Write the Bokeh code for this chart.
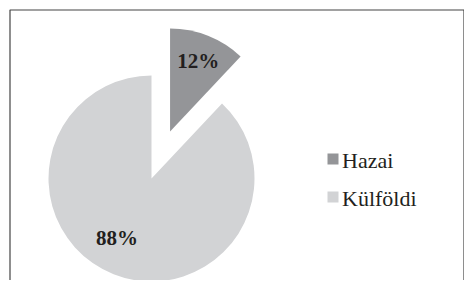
import math
from bokeh.plotting import figure
from bokeh.models import Range1d
from bokeh.core.properties import value
from bokeh.embed import file_html
from bokeh.resources import INLINE

categories = ["Hazai", "Külföldi"]
shares = [12, 88]
labels = ["12%", "88%"]
colors = ["#949598", "#d2d3d5"]

W, H = 464, 280
p = figure(width=W, height=H, output_backend="svg", toolbar_location=None,
           x_range=Range1d(0, W), y_range=Range1d(0, H),
           min_border=0, outline_line_color=None)
p.axis.visible = False
p.grid.visible = False
p.background_fill_color = "white"
p.border_fill_color = "white"

def sy(y):
    return H - y

# frame (reference pixel coords)
p.line(x=[9.5, 9.5, 463.5, 463.5], y=[sy(300), sy(9.5), sy(9.5), sy(300)],
       line_color="#444444", line_width=1.2)

cx, cy, R = 151, sy(178), 103
explode = 50.5
total = sum(shares)
start = math.pi / 2
font = value("Liberation Serif")
label_pos = [(0.74, None), (0.67, math.radians(240))]
for i, (cat, s) in enumerate(zip(categories, shares)):
    sweep = 2 * math.pi * s / total
    a1 = start
    a0 = start - sweep
    mid = (a0 + a1) / 2
    if i == 0:
        ox, oy = explode * math.cos(mid), explode * math.sin(mid)
    else:
        ox, oy = 0, 0
    x0, y0 = cx + ox, cy + oy
    p.wedge(x=x0, y=y0, radius=R, start_angle=a0, end_angle=a1, direction="anticlock",
            fill_color=colors[i], line_color=None)
    rf, ang = label_pos[i]
    if ang is None:
        ang = mid
    p.text(x=x0 + rf * R * math.cos(ang), y=y0 + rf * R * math.sin(ang), text=[labels[i]],
           text_align="center", text_baseline="middle", text_font=font,
           text_font_size="21px", text_font_style="bold", text_color="#231f20")
    start = a0

# legend
lx, ly0, dy = 332.5, sy(158.5), -38
for i, cat in enumerate(categories):
    yy = ly0 + i * dy
    p.rect(x=lx, y=yy, width=11, height=11, fill_color=colors[i], line_color=None)
    p.text(x=lx + 9, y=yy - 1, text=[cat], text_align="left", text_baseline="middle",
           text_font=font, text_font_size="22px", text_color="#231f20")

open("out.html", "w").write(file_html(p, INLINE))
